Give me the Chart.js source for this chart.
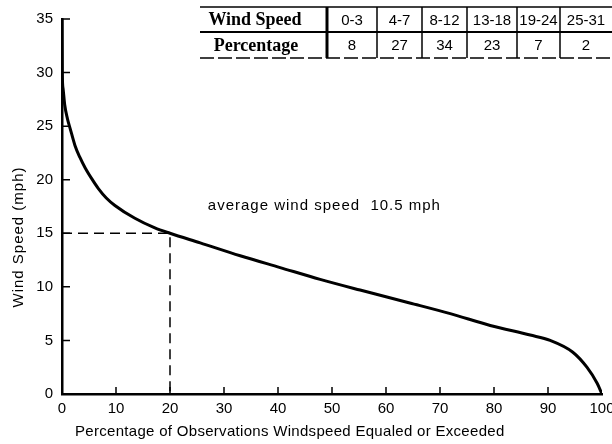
<!DOCTYPE html>
<html>
<head>
<meta charset="utf-8">
<script src="https://cdn.jsdelivr.net/npm/chart.js@4.4.0/dist/chart.umd.min.js"></script>
<style>
  html, body { margin: 0; padding: 0; background: #fff; }
  #wrap { width: 612px; height: 444px; }
</style>
</head>
<body>
<div id="wrap"><canvas id="windChart"></canvas></div>
<script>
// duration curve
const exceedPct = [0, 0.05, 0.2, 0.5, 1.0, 1.5, 2.4, 3.3, 4.3, 5.5, 6.7, 8.2, 9.8, 13.5, 17.2, 20, 25.6, 33, 40.4, 47.8, 55.2, 64.4, 71.9, 79.3, 86.7, 90.4, 94.6, 97.2, 99.1, 100];
const windSpeed = [35, 30, 28.5, 27, 25.7, 24.8, 23.2, 22.1, 21.1, 20.1, 19.2, 18.3, 17.6, 16.4, 15.5, 15.0, 14.1, 12.9, 11.8, 10.7, 9.7, 8.5, 7.5, 6.4, 5.5, 5.0, 3.9, 2.5, 1.0, 0];

// dashed guide at 20% / 15 mph
const guideX = [0, 20, 20];
const guideY = [15, 15, 0];

// frequency table
const rowLabels = ['Wind Speed', 'Percentage'];
const speedBins = ['0-3', '4-7', '8-12', '13-18', '19-24', '25-31'];
const binPercent = [8, 27, 34, 23, 7, 2];

const xTicks = [0, 10, 20, 30, 40, 50, 60, 70, 80, 90, 100];
const yTicks = [0, 5, 10, 15, 20, 25, 30, 35];

const avgNote = 'average wind speed  10.5 mph';
const xTitle = 'Percentage of Observations Windspeed Equaled or Exceeded';
const yTitle = 'Wind Speed (mph)';

const FONT = '"Liberation Sans", Arial, sans-serif';

const toPoints = (xs, ys) => xs.map((x, i) => ({ x: x, y: ys[i] }));

// ticks point into the plot, plus table and labels
const extras = {
  id: 'extras',
  afterDraw(chart) {
    const ctx = chart.ctx;
    const xs = chart.scales.x, ys = chart.scales.y;
    const area = chart.chartArea;
    ctx.save();
    ctx.strokeStyle = '#000';
    ctx.lineWidth = 1.5;
    ctx.beginPath();
    xTicks.slice(1, -1).forEach(v => {
      const px = xs.getPixelForValue(v);
      ctx.moveTo(px, area.bottom);
      ctx.lineTo(px, area.bottom - 7);
    });
    yTicks.slice(1).forEach(v => {
      const py = ys.getPixelForValue(v);
      ctx.moveTo(area.left, py);
      ctx.lineTo(area.left + 8, py);
    });
    ctx.stroke();

    // annotation
    ctx.fillStyle = '#000';
    ctx.font = '15px ' + FONT;
    ctx.textAlign = 'left';
    ctx.textBaseline = 'middle';
    ctx.letterSpacing = '1px';
    ctx.fillText(avgNote, xs.getPixelForValue(27), ys.getPixelForValue(17.6));

    // axis titles
    ctx.letterSpacing = '0.3px';
    ctx.fillText(xTitle, 75, 432);
    ctx.save();
    ctx.letterSpacing = '1px';
    ctx.translate(19, 237);
    ctx.rotate(-Math.PI / 2);
    ctx.textAlign = 'center';
    ctx.fillText(yTitle, 0, 0);
    ctx.restore();
    ctx.letterSpacing = '0px';

    // table
    const top = 7, mid = 32, bottom = 58, left = 200;
    const edges = [327, 377, 422, 467, 517, 560, 612];
    ctx.lineWidth = 1.5;
    ctx.beginPath();
    ctx.moveTo(left, top); ctx.lineTo(612, top);
    ctx.stroke();
    ctx.lineWidth = 2;
    ctx.beginPath();
    ctx.moveTo(left, mid); ctx.lineTo(612, mid);
    ctx.stroke();
    ctx.lineWidth = 1.5;
    ctx.setLineDash([14, 4]);
    ctx.beginPath();
    ctx.moveTo(left, bottom); ctx.lineTo(612, bottom);
    ctx.stroke();
    ctx.setLineDash([]);
    edges.slice(0, -1).forEach((ex, i) => {
      ctx.lineWidth = i === 0 ? 3 : 1.5;
      ctx.beginPath();
      ctx.moveTo(ex, top); ctx.lineTo(ex, bottom);
      ctx.stroke();
    });

    ctx.textAlign = 'center';
    ctx.font = 'bold 18px "Liberation Serif", "Times New Roman", serif';
    ctx.fillText(rowLabels[0], 255, (top + mid) / 2 + 1);
    ctx.fillText(rowLabels[1], 256, (mid + bottom) / 2 + 1);
    ctx.font = '15px ' + FONT;
    speedBins.forEach((label, i) => {
      const cx = (edges[i] + edges[i + 1]) / 2;
      ctx.fillText(label, cx, (top + mid) / 2 + 1);
      ctx.fillText(String(binPercent[i]), cx, (mid + bottom) / 2 + 1);
    });
    ctx.restore();
  }
};

new Chart(document.getElementById('windChart'), {
  type: 'scatter',
  data: {
    datasets: [
      {
        data: toPoints(exceedPct, windSpeed),
        showLine: true,
        borderColor: '#000',
        borderWidth: 3,
        pointRadius: 0,
        cubicInterpolationMode: 'monotone'
      },
      {
        data: toPoints(guideX, guideY),
        showLine: true,
        borderColor: '#000',
        borderWidth: 1.5,
        borderDash: [10, 6],
        pointRadius: 0
      }
    ]
  },
  options: {
    responsive: true,
    maintainAspectRatio: false,
    animation: false,
    layout: { padding: { top: 19, right: 10, left: 0, bottom: 0 } },
    plugins: { legend: { display: false }, tooltip: { enabled: false } },
    scales: {
      x: {
        type: 'linear',
        min: 0,
        max: 100,
        afterFit: s => { s.height = 50; s.paddingLeft = 0; s.paddingRight = 0; },
        afterBuildTicks: s => { s.ticks = xTicks.map(v => ({ value: v })); },
        grid: { display: true, drawOnChartArea: false, drawTicks: false },
        border: { display: true, color: '#000', width: 2.5 },
        ticks: { color: '#000', padding: 6, maxRotation: 0, autoSkip: false, font: { family: FONT, size: 15 } }
      },
      y: {
        type: 'linear',
        min: 0,
        max: 35,
        afterFit: s => { s.width = 62; s.paddingTop = 0; s.paddingBottom = 0; },
        afterBuildTicks: s => { s.ticks = yTicks.map(v => ({ value: v })); },
        grid: { display: true, drawOnChartArea: false, drawTicks: false },
        border: { display: true, color: '#000', width: 2.5 },
        ticks: { color: '#000', padding: 9, autoSkip: false, font: { family: FONT, size: 15 } }
      }
    }
  },
  plugins: [extras]
});
</script>
</body>
</html>
